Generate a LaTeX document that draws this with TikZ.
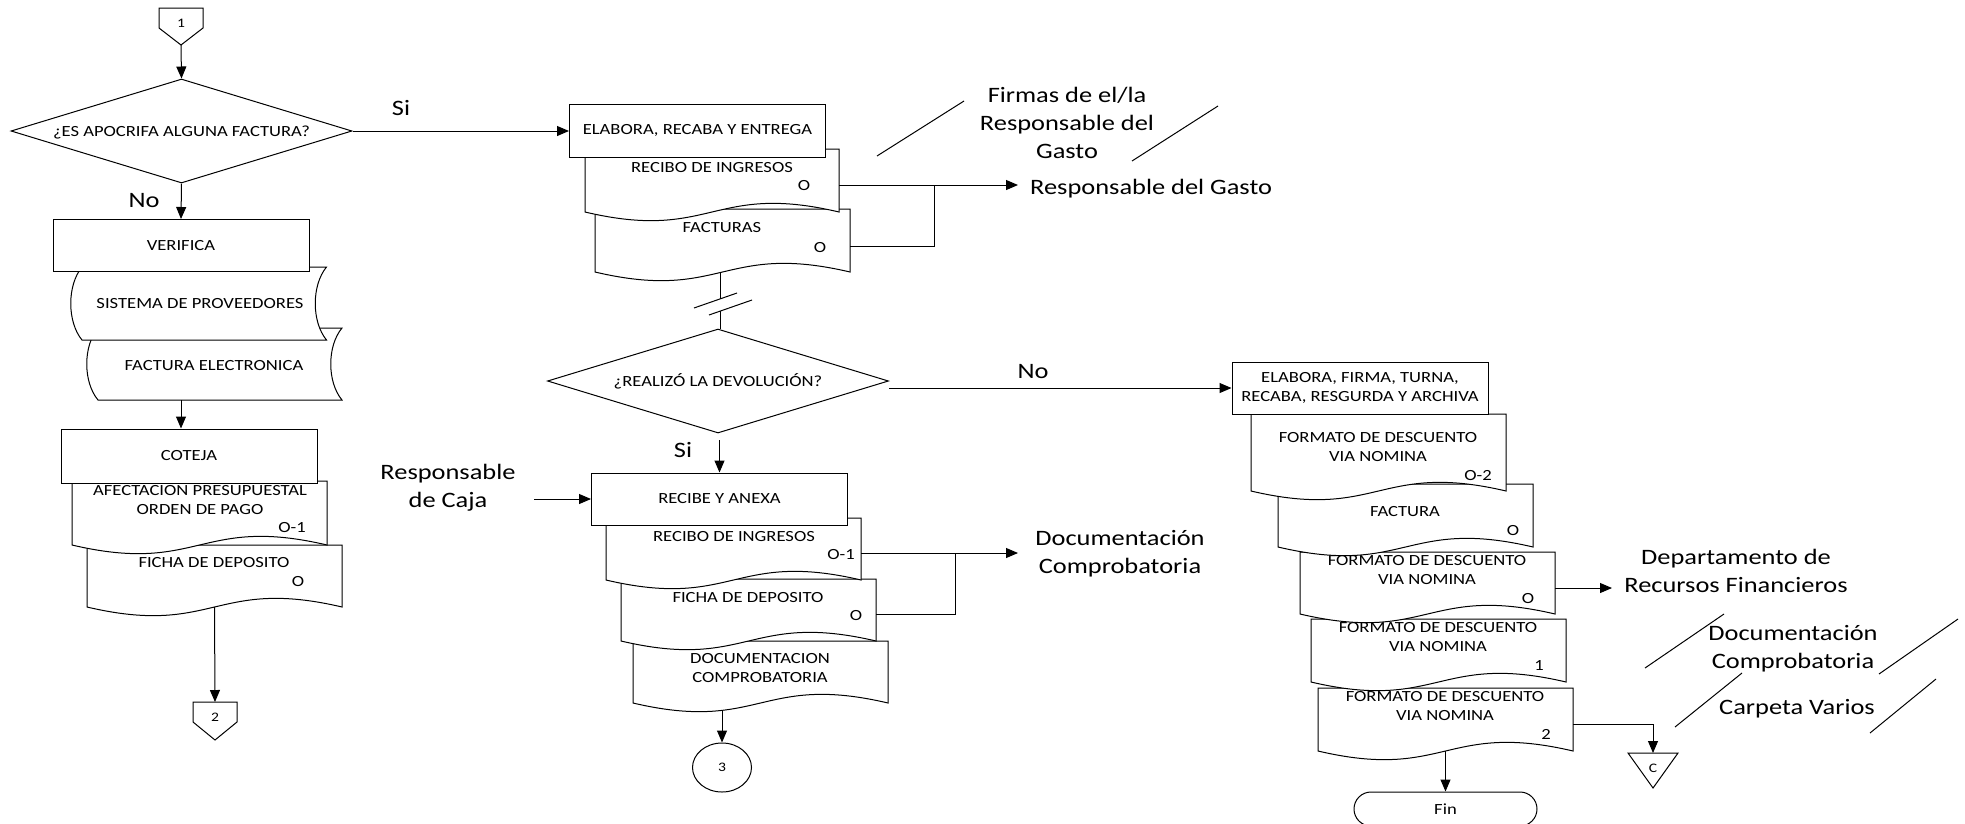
\documentclass[tikz,border=0pt]{standalone}
\usepackage{fontspec}
\setmainfont{Carlito}[FakeStretch=1.2]
\usetikzlibrary{arrows.meta,shapes.geometric,fit,calc}

\newcommand{\bxfont}{\fontsize{15.5}{19}\selectfont}
\newcommand{\lbfont}{\fontsize{22}{28}\selectfont}
\newcommand{\cnfont}{\fontsize{13}{15}\selectfont}

\tikzset{
  ln/.style={line width=1pt, draw=black},
  arr/.style={ln, -{Triangle[length=12pt,width=10pt]}},
  shp/.style={ln, fill=white, line join=miter},
  area/.style={inner sep=0pt, outer sep=0pt},
  proc/.style={ln, fill=white, rectangle, minimum width=256pt, minimum height=52pt,
    inner sep=0pt, font=\bxfont, align=center},
  dec/.style={ln, fill=white, diamond, minimum width=341pt, minimum height=104pt,
    inner sep=0pt, aspect=3.3, font=\bxfont, text height=10pt, text depth=0pt},
  btxt/.style={anchor=base, inner sep=0pt, font=\bxfont, align=center},
  ltxt/.style={anchor=base, inner sep=0pt, font=\lbfont, align=center},
  ctxt/.style={anchor=base, inner sep=0pt, font=\cnfont},
}

% document symbol with a wavy lower edge: name, left x, right x, top y, corner y
\newcommand{\docnode}[5]{%
  \coordinate (#1-tl) at (#2,#4);
  \coordinate (#1-br) at (#3,#5);
  \node[area, fit=(#1-tl)(#1-br)] (#1) {};
  \draw[shp] (#1.north west) -- (#1.north east) -- (#1.south east)
    .. controls ([yshift=30pt]#1.south) and ([yshift=-30pt]#1.south) .. (#1.south west) -- cycle;
}

% stored data symbol with curved sides: name, left x, right x, top y, bottom y
\newcommand{\storednode}[5]{%
  \coordinate (#1-tl) at (#2,#4);
  \coordinate (#1-br) at (#3,#5);
  \node[area, fit=(#1-tl)(#1-br)] (#1) {};
  \draw[shp] (#1.north west) -- (#1.north east)
    .. controls ($(#1.north east)!0.25!(#1.south east)+(-15,0)$)
       and ($(#1.north east)!0.75!(#1.south east)+(-15,0)$) .. (#1.south east)
    -- (#1.south west)
    .. controls ($(#1.north west)!0.75!(#1.south west)+(-15,0)$)
       and ($(#1.north west)!0.25!(#1.south west)+(-15,0)$) .. (#1.north west) -- cycle;
}

\begin{document}
\begin{tikzpicture}[x=1pt,y=-1pt]
\useasboundingbox (0,0) rectangle (1965,823);

% ================= left column =================
\node[area, minimum width=44pt, minimum height=37pt] (c1) at (181,26.5) {};
\draw[shp] (c1.north west) -- (c1.north east) -- ([yshift=17pt]c1.south east)
  -- (c1.south) -- ([yshift=17pt]c1.south west) -- cycle;
\node[ctxt] (c1t) at (181,27) {1};

\node[dec] (d1) at (181.5,131) {¿ES APOCRIFA ALGUNA FACTURA?};
\draw[arr] (c1.south) -- (d1.north);

\storednode{fe}{98}{342}{328}{400}
\node[btxt] (fet) at (214,370) {FACTURA ELECTRONICA};
\storednode{sp}{82}{326.5}{267}{340}
\node[btxt] (spt) at (200,308) {SISTEMA DE PROVEEDORES};
\node[proc] (ver) at (181,245.5) {VERIFICA};
\draw[arr] (d1.south) -- (ver.north);
\node[ltxt] (no1) at (144,207) {No};

\docnode{fic1}{87}{342}{545}{607}
\node[btxt] (fic1t) at (214,567) {FICHA DE DEPOSITO};
\node[btxt] (fic1c) at (298,586) {O};
\docnode{afe}{72}{327}{481}{545}
\node[btxt] (afet) at (200,514) {AFECTACION PRESUPUESTAL\\ORDEN DE PAGO};
\node[btxt] (afec) at (292,532) {O-1};
\node[proc, minimum height=54pt] (cot) at (189,456) {COTEJA};
\draw[arr] (ver.center |- fe.south) -- (ver.center |- cot.north);

\node[area, minimum width=44pt, minimum height=38pt] (c2) at (215,721) {};
\draw[shp] (c2.north west) -- (c2.north east) -- ([yshift=18pt]c2.south east)
  -- (c2.south) -- ([yshift=18pt]c2.south west) -- cycle;
\node[ctxt] (c2t) at (215,721) {2};
\draw[arr] (fic1.south) -- (c2.north);

% ================= middle column =================
\docnode{facs}{595}{850}{209}{272}
\node[btxt] (facst) at (722,232) {FACTURAS};
\node[btxt] (facsc) at (820,252) {O};
\docnode{rec1}{585}{839}{149}{212}
\node[btxt] (rec1t) at (712,172) {RECIBO DE INGRESOS};
\node[btxt] (rec1c) at (804,190) {O};
\node[proc, minimum height=53pt] (ela) at (697.5,130.5) {ELABORA, RECABA Y ENTREGA};
\draw[arr] (d1.east) -- (d1.east -| ela.west);
\node[ltxt] (si1) at (401,115) {Si};

\coordinate (j1) at (934,185);
\draw[ln] ([yshift=-4.5pt]rec1.east) -- (j1);
\draw[ln] ([yshift=-5.5pt]facs.east) -| (j1);
\node[ltxt, anchor=base west] (rg) at (1030,194) {Responsable del Gasto};
\draw[arr] (j1) -- ([xshift=-12pt]j1 -| rg.west);

\node[ltxt] (firm) at (1067,158) {Firmas de el/la\\Responsable del\\Gasto};
\draw[ln] (877,156) -- (964,101);
\draw[ln] (1132,161) -- (1218,106);

% broken flow line between the two sections
\node[dec] (d2) at (718,381) {¿REALIZÓ LA DEVOLUCIÓN?};
\coordinate (bk1) at (720,299);
\coordinate (bk2) at (720,311);
\draw[ln] (bk1 |- facs.south) -- (bk1);
\draw[ln] (694,308) -- (737,293);
\draw[ln] (709,315) -- (752,300);
\draw[ln] (bk2) -- (bk2 |- d2.north);

\docnode{doc2}{633}{888}{641}{703}
\node[btxt] (doc2t) at (760,682) {DOCUMENTACION\\COMPROBATORIA};
\docnode{fic2}{621}{876}{579}{641}
\node[btxt] (fic2t) at (748,602) {FICHA DE DEPOSITO};
\node[btxt] (fic2c) at (856,620) {O};
\docnode{rec2}{606}{861}{518}{580}
\node[btxt] (rec2t) at (734,541) {RECIBO DE INGRESOS};
\node[btxt] (rec2c) at (841,559) {O-1};
\node[proc] (rya) at (719.5,499) {RECIBE Y ANEXA};

\coordinate (sia) at (719.5,440);
\draw[arr] (sia) -- (rya.north);
\node[ltxt] (si2) at (683,457) {Si};

\node[ltxt] (caja) at (448,507) {Responsable\\de Caja};
\coordinate (cajain) at (534,499);
\draw[arr] (cajain) -- (rya.west);

\coordinate (j2) at (955,553);
\draw[ln] ([yshift=-4pt]rec2.east) -- (j2);
\draw[ln] ([yshift=-4pt]fic2.east) -| (j2);
\node[ltxt] (dc1) at (1120,573) {Documentación\\Comprobatoria};
\draw[arr] (j2) -- ++(63,0);

\node[ln, ellipse, minimum width=59pt, minimum height=49pt, inner sep=0pt, font=\cnfont] (c3) at (722,767.5) {3};
\draw[arr] ([yshift=32pt]c3.north) -- (c3.north);

% ================= right column =================
\docnode{f2}{1318}{1573}{688}{751}
\node[btxt] (f2t) at (1445,720) {FORMATO DE DESCUENTO\\VIA NOMINA};
\node[btxt] (f2c) at (1546,739) {2};
\docnode{f1}{1311}{1566}{619}{682}
\node[btxt] (f1t) at (1438,651) {FORMATO DE DESCUENTO\\VIA NOMINA};
\node[btxt] (f1c) at (1539,670) {1};
\docnode{fo}{1300}{1555}{552}{614}
\node[btxt] (fot) at (1427,584) {FORMATO DE DESCUENTO\\VIA NOMINA};
\node[btxt] (foc) at (1528,603) {O};
\docnode{fac}{1278}{1533}{484}{547}
\node[btxt] (fact) at (1405,516) {FACTURA};
\node[btxt] (facc) at (1513,535) {O};
\docnode{fo2}{1251}{1506}{414}{491}
\node[btxt] (fo2t) at (1378,461) {FORMATO DE DESCUENTO\\VIA NOMINA};
\node[btxt] (fo2c) at (1478,480) {O-2};
\node[proc] (efr) at (1360,388) {ELABORA, FIRMA, TURNA,\\RECABA, RESGURDA Y ARCHIVA};
\draw[arr] (d2.east |- efr.west) -- (efr.west);
\node[ltxt] (no2) at (1033,378) {No};

\node[ltxt] (dep) at (1736,592) {Departamento de\\Recursos Financieros};
\draw[arr] ([yshift=-5pt]fo.east) -- ++(57,0);

\node[ltxt] (dc2) at (1793,668) {Documentación\\Comprobatoria};
\node[ltxt] (cv) at (1797,714) {Carpeta Varios};
\draw[ln] (1645,668) -- (1724,614);
\draw[ln] (1879,674) -- (1958,619);
\draw[ln] (1675,727) -- (1742,673);
\draw[ln] (1870,733) -- (1936,679);

\node[area, minimum width=50pt, minimum height=35pt] (tc) at (1653,770.5) {};
\draw[shp] (tc.north west) -- (tc.north east) -- (tc.south) -- cycle;
\node[ctxt] (tct) at (1653,772) {C};
\draw[arr] ([yshift=-4.5pt]f2.east) -| (tc.north);

\node[ln, rectangle, rounded corners=17pt, minimum width=183pt, minimum height=34pt,
  inner sep=0pt, font=\bxfont] (fin) at (1445.5,809) {Fin};
\draw[arr] (f2.south) -- (fin.north);
\end{tikzpicture}
\end{document}
